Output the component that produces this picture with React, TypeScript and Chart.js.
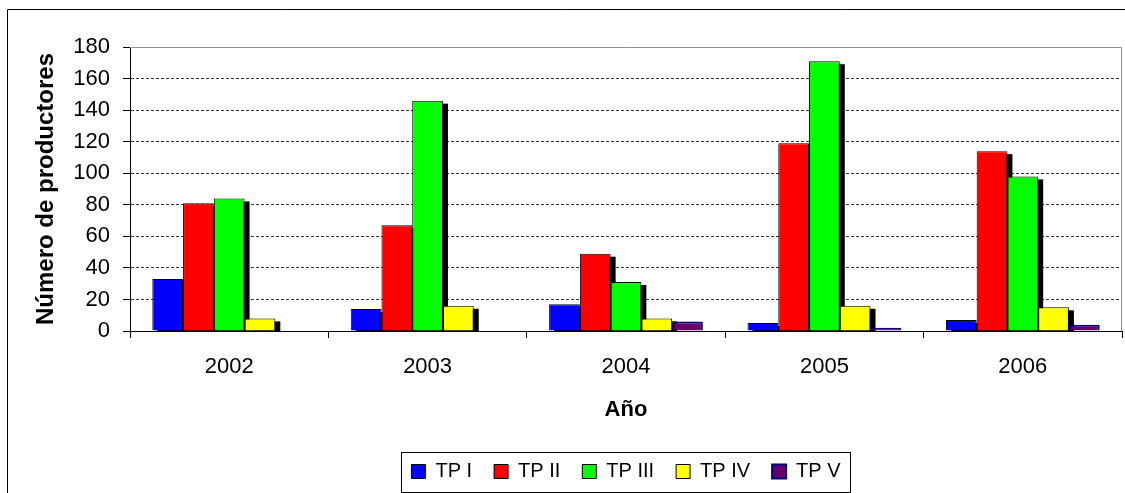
import React, { useEffect, useRef } from "react";
import { Chart, registerables } from "chart.js";

Chart.register(...registerables);

const categories = ["2002", "2003", "2004", "2005", "2006"];
const seriesNames = ["TP I", "TP II", "TP III", "TP IV", "TP V"];
const tpI = [33, 14, 17, 5, 7];
const tpII = [81, 67, 49, 119, 114];
const tpIII = [84, 146, 31, 171, 98];
const tpIV = [8, 16, 8, 16, 15];
const tpV = [0, 0, 6, 2, 4];
const yTicks = [0, 20, 40, 60, 80, 100, 120, 140, 160, 180];

const FONT = "'Liberation Sans', Arial, sans-serif";

const decorPlugin = {
  id: "decor",
  beforeDraw(chart: any) {
    const ctx = chart.ctx;
    ctx.save();
    ctx.fillStyle = "#ffffff";
    ctx.fillRect(0, 0, chart.width, chart.height);
    ctx.strokeStyle = "#000000";
    ctx.lineWidth = 1;
    ctx.beginPath();
    ctx.moveTo(7.5, chart.height);
    ctx.lineTo(7.5, 9.5);
    ctx.lineTo(chart.width, 9.5);
    ctx.stroke();
    ctx.restore();
  },
  beforeDatasetsDraw(chart: any) {
    const ctx = chart.ctx;
    const a = chart.chartArea;
    ctx.save();
    ctx.strokeStyle = "#909090";
    ctx.lineWidth = 1;
    ctx.beginPath();
    ctx.moveTo(a.left, Math.round(a.top) + 0.5);
    ctx.lineTo(Math.round(a.right) - 0.5, Math.round(a.top) + 0.5);
    ctx.lineTo(Math.round(a.right) - 0.5, a.bottom);
    ctx.stroke();
    ctx.restore();
    // bar shadows, from the bar elements' own positions
    ctx.save();
    ctx.beginPath();
    ctx.rect(a.left, a.top, a.right - a.left, a.bottom - a.top);
    ctx.clip();
    ctx.fillStyle = "#000000";
    chart.data.datasets.forEach((d: any, i: number) => {
      if (d.noShadow) return;
      const meta = chart.getDatasetMeta(i);
      meta.data.forEach((el: any) => {
        const p = el.getProps(["x", "y", "base", "width"], true);
        const top = Math.min(p.y, p.base);
        const h = Math.abs(p.base - p.y);
        if (h <= 0.5) return;
        ctx.fillRect(p.x - p.width / 2 + 5, top + 3, p.width, h);
      });
    });
    ctx.restore();
  },
  afterDraw(chart: any) {
    const lg = chart.legend;
    if (!lg || !lg.legendHitBoxes || !lg.legendHitBoxes.length) return;
    const hb = lg.legendHitBoxes;
    let l = Infinity, r = -Infinity, t = Infinity, b = -Infinity;
    hb.forEach((h: any) => {
      l = Math.min(l, h.left);
      r = Math.max(r, h.left + h.width);
      t = Math.min(t, h.top);
      b = Math.max(b, h.top + h.height);
    });
    const ctx = chart.ctx;
    ctx.save();
    ctx.strokeStyle = "#000000";
    ctx.lineWidth = 1;
    ctx.strokeRect(Math.round(l - 10) + 0.5, Math.round(t - 10) + 0.5, Math.round(r - l + 20), Math.round(b - t + 20));
    ctx.restore();
  },
};

export default function App() {
  const ref = useRef<HTMLCanvasElement | null>(null);

  useEffect(() => {
    if (!ref.current) return;
    const mk = (label: string, data: number[], bg: string, border: string, bw: number, noShadow = false) => ({
      label,
      data,
      backgroundColor: bg,
      borderColor: border,
      borderWidth: bw,
      categoryPercentage: 0.775,
      barPercentage: 1,
      noShadow,
    });
    const chart = new Chart(ref.current, {
      type: "bar",
      data: {
        labels: categories,
        datasets: [
          mk(seriesNames[0], tpI, "#0000FF", "#000000", 1),
          mk(seriesNames[1], tpII, "#FF0000", "#000000", 1),
          mk(seriesNames[2], tpIII, "#00FF00", "#000000", 1),
          mk(seriesNames[3], tpIV, "#FFFF00", "#000000", 1),
          mk(seriesNames[4], tpV, "#660066", "#000080", 2, true),
        ],
      },
      options: {
        responsive: false,
        animation: false,
        devicePixelRatio: 1,
        layout: { padding: { left: 0, right: 3, top: 47, bottom: 1.5 } },
        plugins: {
          tooltip: { enabled: false },
          legend: {
            position: "bottom",
            fullSize: false,
            align: "center",
            labels: {
              color: "#000000",
              font: { family: FONT, size: 20 },
              boxWidth: 14,
              boxHeight: 14,
              padding: 22,
            },
          },
        },
        scales: {
          x: {
            grid: {
              drawOnChartArea: false,
              drawTicks: true,
              tickLength: 7,
              color: "#000000",
              offset: true,
            },
            border: { display: true, color: "#000000", width: 1 },
            ticks: {
              color: "#000000",
              font: { family: FONT, size: 22 },
              padding: 16,
              maxRotation: 0,
            },
            title: {
              display: true,
              text: "Año",
              color: "#000000",
              font: { family: FONT, size: 22, weight: "bold" },
              padding: { top: 0, bottom: 16 },
            },
            afterFit(scale: any) {
              scale.height = 108.5;
            },
          },
          y: {
            min: 0,
            max: 180,
            afterBuildTicks(scale: any) {
              scale.ticks = yTicks.map((v) => ({ value: v }));
            },
            grid: {
              color: (c: any) => (c.tick && (c.tick.value === 180 || c.tick.value === 0) ? "rgba(0,0,0,0)" : "#333333"),
              tickColor: "#000000",
              tickLength: 7,
              lineWidth: 1,
            },
            border: { display: true, color: "#000000", width: 1, dash: [3, 2] },
            ticks: {
              color: "#000000",
              font: { family: FONT, size: 22 },
              padding: 13,
            },
            title: {
              display: true,
              text: "Número de productores",
              color: "#000000",
              font: { family: FONT, size: 24, weight: "bold" },
              padding: { top: 32, bottom: 0 },
            },
            afterFit(scale: any) {
              scale.width = 130;
            },
          },
        },
      } as any,
      plugins: [decorPlugin],
    });
    return () => chart.destroy();
  }, []);

  return (
    <canvas
      ref={ref}
      width={1125}
      height={493}
      style={{ position: "fixed", left: 0, top: 0, width: "1125px", height: "493px", display: "block" }}
    />
  );
}
